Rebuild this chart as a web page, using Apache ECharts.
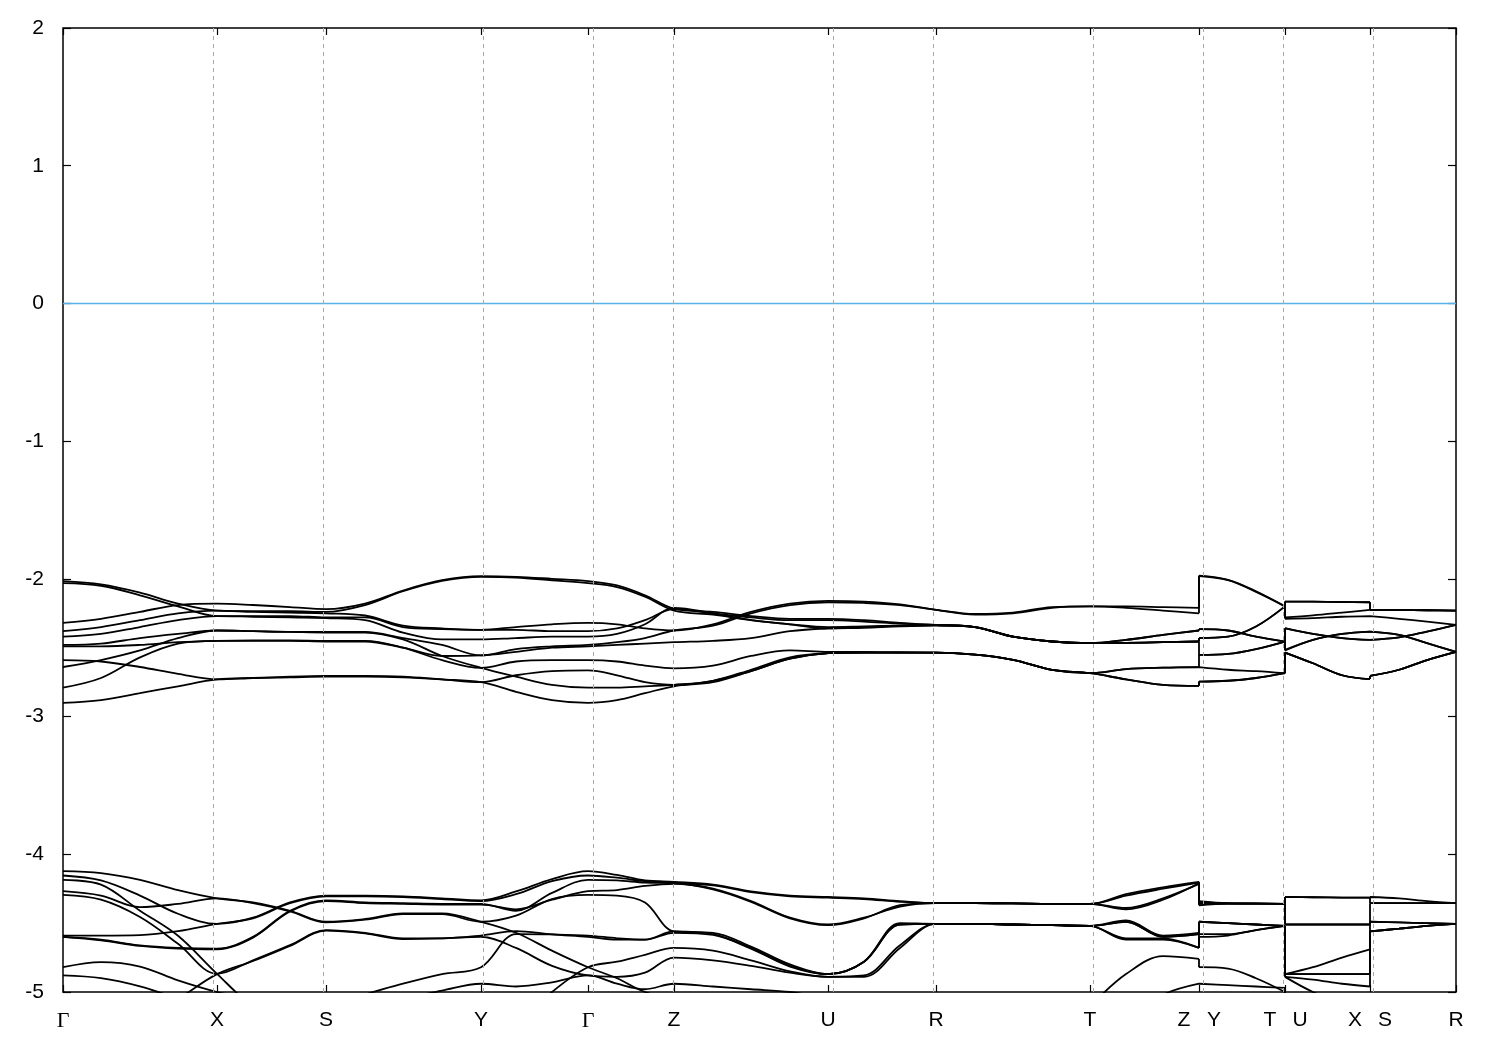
<!DOCTYPE html>
<html>
<head>
<meta charset="utf-8">
<script src="https://cdn.jsdelivr.net/npm/echarts@6/dist/echarts.min.js"></script>
<style>
html,body{margin:0;padding:0;background:#fff;}
#c{width:1500px;height:1050px;}
</style>
</head>
<body>
<div id="c"></div>
<script>
// k-path sample positions (path length units); duplicated entries mark the path breaks Z|Y, T|U, X|S
const kGrid = [0, 0.038, 0.077, 0.115, 0.154, 0.190, 0.227, 0.263, 0.302, 0.340, 0.379, 0.418,
  0.453, 0.489, 0.525, 0.554, 0.582, 0.611, 0.650, 0.688, 0.727, 0.765, 0.801, 0.837, 0.873,
  0.912, 0.950, 0.989, 1.027, 1.063, 1.100, 1.136, 1.136, 1.165, 1.193, 1.222, 1.222, 1.250,
  1.279, 1.307, 1.307, 1.336, 1.364, 1.393];
const breakStarts = [32, 36, 40];

// high-symmetry points
const kTicks = [0, 0.154, 0.263, 0.418, 0.525, 0.611, 0.765, 0.873, 1.027, 1.136, 1.222, 1.307, 1.393];
const kTickLabels = ['Γ', 'X', 'S', 'Y', 'Γ', 'Z', 'U', 'R', 'T', 'Z|Y', 'T|U', 'X|S', 'R'];

// energy axis
const eMin = -5, eMax = 2, eStep = 1;
const fermiLevel = 0;

// upper band group (eV)
const band01 = [-2.017,-2.04,-2.10,-2.18,-2.23,-2.235,-2.235,-2.24,-2.19,-2.09,-2.015,-1.985,-1.99,-2.01,-2.031,-2.06,-2.13,-2.23,-2.26,-2.30,-2.33,-2.36,-2.35,-2.34,-2.335,-2.35,-2.42,-2.455,-2.467,-2.465,-2.46,-2.455,-2.552,-2.545,-2.51,-2.455,-2.516,-2.443,-2.40,-2.383,-2.383,-2.407,-2.467,-2.53];
const band02 = [-2.031,-2.05,-2.12,-2.20,-2.27,-2.27,-2.27,-2.28,-2.28,-2.35,-2.365,-2.37,-2.37,-2.38,-2.38,-2.36,-2.30,-2.22,-2.25,-2.28,-2.30,-2.30,-2.31,-2.325,-2.335,-2.35,-2.42,-2.455,-2.467,-2.443,-2.407,-2.375,-2.365,-2.375,-2.42,-2.455,-2.36,-2.40,-2.43,-2.443,-2.443,-2.425,-2.383,-2.334];
const band03 = [-2.32,-2.29,-2.24,-2.19,-2.18,-2.19,-2.205,-2.22,-2.18,-2.085,-2.01,-1.98,-1.985,-2.0,-2.017,-2.048,-2.12,-2.217,-2.24,-2.27,-2.29,-2.29,-2.30,-2.32,-2.335,-2.35,-2.42,-2.455,-2.467,-2.443,-2.407,-2.375,-2.365,-2.375,-2.42,-2.455,-2.358,-2.40,-2.43,-2.443,-2.443,-2.425,-2.383,-2.334];
const band04 = [-2.38,-2.35,-2.30,-2.25,-2.23,-2.24,-2.245,-2.25,-2.266,-2.34,-2.36,-2.37,-2.35,-2.33,-2.32,-2.33,-2.36,-2.375,-2.33,-2.24,-2.18,-2.16,-2.165,-2.185,-2.225,-2.26,-2.25,-2.21,-2.20,-2.20,-2.205,-2.21,-1.976,-2.007,-2.09,-2.20,-2.165,-2.166,-2.168,-2.17,-2.225,-2.226,-2.228,-2.23];
const band05 = [-2.42,-2.40,-2.35,-2.30,-2.27,-2.275,-2.28,-2.285,-2.30,-2.39,-2.44,-2.44,-2.43,-2.42,-2.42,-2.40,-2.33,-2.21,-2.25,-2.30,-2.33,-2.35,-2.345,-2.34,-2.335,-2.35,-2.42,-2.455,-2.467,-2.465,-2.46,-2.455,-2.43,-2.42,-2.346,-2.20,-2.28,-2.265,-2.245,-2.225,-2.225,-2.226,-2.228,-2.23];
const band06 = [-2.48,-2.47,-2.43,-2.40,-2.375,-2.38,-2.385,-2.385,-2.385,-2.43,-2.48,-2.556,-2.51,-2.49,-2.48,-2.46,-2.43,-2.375,-2.34,-2.25,-2.19,-2.17,-2.175,-2.19,-2.225,-2.255,-2.245,-2.205,-2.20,-2.21,-2.23,-2.25,-1.98,-2.01,-2.095,-2.20,-2.165,-2.166,-2.168,-2.17,-2.225,-2.226,-2.228,-2.23];
const band07 = [-2.49,-2.49,-2.48,-2.46,-2.45,-2.447,-2.447,-2.45,-2.45,-2.50,-2.59,-2.646,-2.60,-2.59,-2.59,-2.60,-2.63,-2.65,-2.63,-2.56,-2.52,-2.53,-2.53,-2.533,-2.535,-2.55,-2.588,-2.661,-2.685,-2.655,-2.645,-2.641,-2.552,-2.545,-2.51,-2.455,-2.52,-2.443,-2.40,-2.383,-2.383,-2.407,-2.467,-2.53];
const band08 = [-2.59,-2.60,-2.64,-2.69,-2.73,-2.72,-2.71,-2.705,-2.705,-2.71,-2.73,-2.75,-2.70,-2.67,-2.665,-2.70,-2.75,-2.77,-2.74,-2.67,-2.58,-2.54,-2.535,-2.535,-2.535,-2.55,-2.588,-2.661,-2.685,-2.655,-2.645,-2.641,-2.641,-2.66,-2.67,-2.685,-2.535,-2.613,-2.70,-2.728,-2.705,-2.66,-2.59,-2.53];
const band09 = [-2.64,-2.59,-2.52,-2.43,-2.375,-2.38,-2.385,-2.39,-2.39,-2.44,-2.56,-2.646,-2.71,-2.77,-2.79,-2.79,-2.78,-2.77,-2.74,-2.66,-2.57,-2.54,-2.535,-2.535,-2.535,-2.55,-2.588,-2.661,-2.685,-2.73,-2.77,-2.777,-2.746,-2.74,-2.72,-2.685,-2.535,-2.613,-2.70,-2.728,-2.705,-2.66,-2.59,-2.53];
const band10 = [-2.79,-2.72,-2.57,-2.47,-2.45,-2.45,-2.45,-2.455,-2.455,-2.50,-2.56,-2.556,-2.53,-2.50,-2.49,-2.48,-2.47,-2.46,-2.45,-2.43,-2.38,-2.36,-2.355,-2.345,-2.34,-2.35,-2.42,-2.455,-2.467,-2.465,-2.46,-2.455,-2.43,-2.42,-2.346,-2.20,-2.29,-2.285,-2.275,-2.27,-2.27,-2.29,-2.31,-2.334];
const band11 = [-2.90,-2.88,-2.83,-2.78,-2.73,-2.72,-2.715,-2.71,-2.71,-2.715,-2.73,-2.75,-2.82,-2.88,-2.90,-2.88,-2.83,-2.78,-2.75,-2.67,-2.58,-2.54,-2.535,-2.535,-2.535,-2.55,-2.588,-2.661,-2.685,-2.73,-2.77,-2.777,-2.746,-2.74,-2.72,-2.685,-2.535,-2.613,-2.70,-2.728,-2.705,-2.66,-2.59,-2.53];

// lower band group (eV)
const band12 = [-4.154,-4.19,-4.30,-4.432,-4.505,-4.46,-4.35,-4.30,-4.30,-4.305,-4.32,-4.335,-4.27,-4.18,-4.123,-4.15,-4.19,-4.20,-4.22,-4.27,-4.30,-4.31,-4.32,-4.34,-4.355,-4.355,-4.357,-4.36,-4.36,-4.29,-4.24,-4.20,-4.34,-4.355,-4.357,-4.36,-4.31,-4.312,-4.314,-4.315,-4.31,-4.32,-4.34,-4.355];
const band13 = [-4.59,-4.59,-4.587,-4.558,-4.505,-4.465,-4.355,-4.305,-4.305,-4.31,-4.325,-4.34,-4.29,-4.195,-4.154,-4.17,-4.195,-4.205,-4.25,-4.34,-4.46,-4.51,-4.46,-4.38,-4.355,-4.355,-4.357,-4.36,-4.36,-4.40,-4.33,-4.21,-4.36,-4.357,-4.358,-4.36,-4.51,-4.51,-4.51,-4.51,-4.355,-4.355,-4.355,-4.355];
const band14 = [-4.60,-4.62,-4.662,-4.68,-4.686,-4.60,-4.41,-4.335,-4.35,-4.355,-4.36,-4.36,-4.41,-4.28,-4.186,-4.19,-4.205,-4.21,-4.225,-4.275,-4.305,-4.315,-4.325,-4.345,-4.355,-4.355,-4.357,-4.36,-4.36,-4.30,-4.25,-4.205,-4.35,-4.355,-4.357,-4.36,-4.31,-4.312,-4.314,-4.315,-4.355,-4.355,-4.355,-4.355];
const band15 = [-4.60,-4.625,-4.665,-4.685,-4.69,-4.605,-4.415,-4.34,-4.355,-4.36,-4.365,-4.365,-4.40,-4.33,-4.268,-4.26,-4.23,-4.215,-4.255,-4.345,-4.465,-4.515,-4.465,-4.37,-4.355,-4.355,-4.357,-4.36,-4.36,-4.39,-4.32,-4.215,-4.37,-4.36,-4.36,-4.36,-4.51,-4.51,-4.51,-4.51,-4.49,-4.495,-4.50,-4.505];
const band16 = [-4.268,-4.30,-4.384,-4.36,-4.32,-4.355,-4.415,-4.495,-4.475,-4.435,-4.435,-4.49,-4.445,-4.325,-4.295,-4.30,-4.35,-4.56,-4.57,-4.67,-4.80,-4.87,-4.78,-4.50,-4.505,-4.505,-4.51,-4.515,-4.52,-4.48,-4.59,-4.57,-4.49,-4.50,-4.51,-4.52,-4.87,-4.82,-4.75,-4.69,-4.49,-4.495,-4.50,-4.505];
const band17 = [-4.186,-4.22,-4.41,-4.592,-4.868,-5.1,-5.2,-5.15,-5.02,-4.94,-4.87,-4.82,-4.58,-4.582,-4.59,-4.61,-4.62,-4.56,-4.58,-4.68,-4.81,-4.87,-4.78,-4.51,-4.505,-4.505,-4.51,-4.515,-4.52,-4.49,-4.60,-4.58,-4.49,-4.50,-4.51,-4.52,-4.87,-4.87,-4.87,-4.87,-4.56,-4.54,-4.52,-4.505];
const band18 = [-4.88,-4.90,-4.96,-5.05,-5.15,-5.2,-5.3,-5.35,-5.3,-5.25,-5.2,-5.2,-5.25,-5.0,-4.82,-4.78,-4.73,-4.68,-4.70,-4.77,-4.85,-4.89,-4.88,-4.66,-4.505,-4.505,-4.51,-4.515,-4.52,-4.61,-4.61,-4.68,-4.58,-4.58,-4.55,-4.52,-4.89,-4.91,-4.94,-4.96,-4.56,-4.54,-4.52,-4.505];
const band19 = [-5.0,-5.1,-5.2,-5.05,-4.87,-4.775,-4.665,-4.555,-4.575,-4.615,-4.61,-4.60,-4.68,-4.81,-4.88,-4.89,-4.86,-4.75,-4.77,-4.81,-4.86,-4.89,-4.89,-4.68,-4.505,-4.505,-4.51,-4.515,-4.52,-4.62,-4.62,-4.68,-4.60,-4.59,-4.55,-4.52,-4.89,-5.0,-5.08,-5.1,-5.05,-5.1,-5.15,-5.2];
const band20 = [-4.82,-4.783,-4.815,-4.916,-5.0,-5.05,-5.1,-5.1,-5.1,-5.05,-4.99,-4.94,-4.96,-4.93,-4.88,-4.94,-4.98,-4.94,-4.96,-4.98,-5.0,-5.05,-5.1,-5.3,-5.4,-5.45,-5.45,-5.35,-5.1,-4.87,-4.74,-4.76,-4.82,-4.83,-4.90,-5.0,-5.05,-5.1,-5.1,-5.1,-5.1,-5.2,-5.25,-5.3];
const band21 = [-4.123,-4.137,-4.186,-4.26,-4.32,-4.35,-4.41,-4.49,-4.47,-4.43,-4.43,-4.49,-4.57,-4.70,-4.82,-4.90,-5.0,-5.05,-5.05,-5.05,-5.1,-5.1,-5.2,-5.35,-5.45,-5.5,-5.5,-5.45,-5.35,-5.2,-5.02,-4.94,-4.94,-4.95,-4.96,-4.97,-5.05,-5.15,-5.15,-5.1,-5.15,-5.25,-5.3,-5.35];
const band22 = [-4.295,-4.33,-4.456,-4.65,-4.868,-4.77,-4.66,-4.55,-4.57,-4.61,-4.61,-4.59,-4.558,-4.582,-4.60,-4.62,-4.62,-4.57,-4.585,-4.685,-4.815,-4.87,-4.78,-4.51,-4.505,-4.505,-4.51,-4.515,-4.52,-4.49,-4.60,-4.58,-4.49,-4.50,-4.51,-4.52,-4.87,-4.87,-4.87,-4.87,-4.56,-4.54,-4.52,-4.505];

const bands = [band01, band02, band03, band04, band05, band06, band07, band08, band09, band10, band11,
  band12, band13, band14, band15, band16, band17, band18, band19, band20, band21, band22];

// ---- build series ----
function smoothData(b) {
  const out = [];
  for (let i = 0; i < kGrid.length; i++) {
    if (breakStarts.indexOf(i) >= 0) out.push([kGrid[i], '-']);
    out.push([kGrid[i], b[i]]);
  }
  return out;
}
function jumpData(b) {
  const out = [];
  breakStarts.forEach((s, j) => {
    if (j > 0) out.push([kGrid[s], '-']);
    out.push([kGrid[s - 1], b[s - 1]]);
    out.push([kGrid[s], b[s]]);
  });
  return out;
}

const bandColor = '#000000';
const bandWidth = 1.8;
const series = [];
series.push({
  type: 'line',
  name: 'fermi',
  data: [[kGrid[0], fermiLevel], [kGrid[kGrid.length - 1], fermiLevel]],
  showSymbol: false,
  silent: true,
  z: 1,
  lineStyle: { color: '#56b4e9', width: 1.6 },
  markLine: {
    silent: true,
    symbol: ['none', 'none'],
    label: { show: false },
    lineStyle: { color: '#a8a8a8', width: 1, type: [4, 4] },
    data: kTicks.slice(1, kTicks.length - 1).map(v => ({ xAxis: v }))
  }
});
bands.forEach(b => {
  series.push({
    type: 'line', data: smoothData(b), showSymbol: false, smooth: 0.35,
    connectNulls: false, silent: true, z: 3,
    lineStyle: { color: bandColor, width: bandWidth }
  });
  series.push({
    type: 'line', data: jumpData(b), showSymbol: false, smooth: false,
    connectNulls: false, silent: true, z: 3,
    lineStyle: { color: bandColor, width: bandWidth }
  });
});

function kLabel(v) {
  let i = 0, best = 1e9;
  kTicks.forEach((t, j) => { const d = Math.abs(t - v); if (d < best) { best = d; i = j; } });
  const s = kTickLabels[i];
  if (s === 'Γ') return '{g|Γ}';
  if (s.indexOf('|') >= 0) {
    const p = s.split('|');
    return '{p|' + p[0] + '}{p|' + p[1] + '}';
  }
  return s;
}

const fontSans = 'Liberation Sans, Arial, sans-serif';
const tickStyle = { color: '#000', width: 1.2 };
const chart = echarts.init(document.getElementById('c'), null, { renderer: 'canvas' });
chart.setOption({
  animation: false,
  backgroundColor: '#ffffff',
  grid: { left: 63, right: 44, top: 28, bottom: 58, show: true, borderColor: '#000', borderWidth: 1.5, backgroundColor: 'transparent' },
  xAxis: [{
    type: 'value', min: kGrid[0], max: kGrid[kGrid.length - 1], position: 'bottom',
    axisLine: { show: false, onZero: false },
    splitLine: { show: false },
    axisTick: { show: true, inside: true, length: 7, customValues: kTicks, lineStyle: tickStyle },
    axisLabel: {
      customValues: kTicks, formatter: kLabel, margin: 18, color: '#000',
      fontSize: 21, fontFamily: fontSans, showMinLabel: true, showMaxLabel: true,
      rich: {
        g: { fontFamily: 'Liberation Serif, serif', fontSize: 22, color: '#000' },
        p: { fontFamily: fontSans, fontSize: 21, color: '#000', width: 30, align: 'center' }
      }
    }
  }, {
    type: 'value', min: kGrid[0], max: kGrid[kGrid.length - 1], position: 'top',
    axisLine: { show: false, onZero: false }, splitLine: { show: false }, axisLabel: { show: false },
    axisTick: { show: true, inside: true, length: 7, customValues: kTicks, lineStyle: tickStyle }
  }],
  yAxis: [{
    type: 'value', min: eMin, max: eMax, interval: eStep, position: 'left',
    axisLine: { show: false, onZero: false }, splitLine: { show: false },
    axisTick: { show: true, inside: true, length: 8, lineStyle: tickStyle },
    axisLabel: { color: '#000', fontSize: 21, fontFamily: fontSans, margin: 19 }
  }, {
    type: 'value', min: eMin, max: eMax, interval: eStep, position: 'right',
    axisLine: { show: false, onZero: false }, splitLine: { show: false }, axisLabel: { show: false },
    axisTick: { show: true, inside: true, length: 8, lineStyle: tickStyle }
  }],
  series: series
});
</script>
</body>
</html>
